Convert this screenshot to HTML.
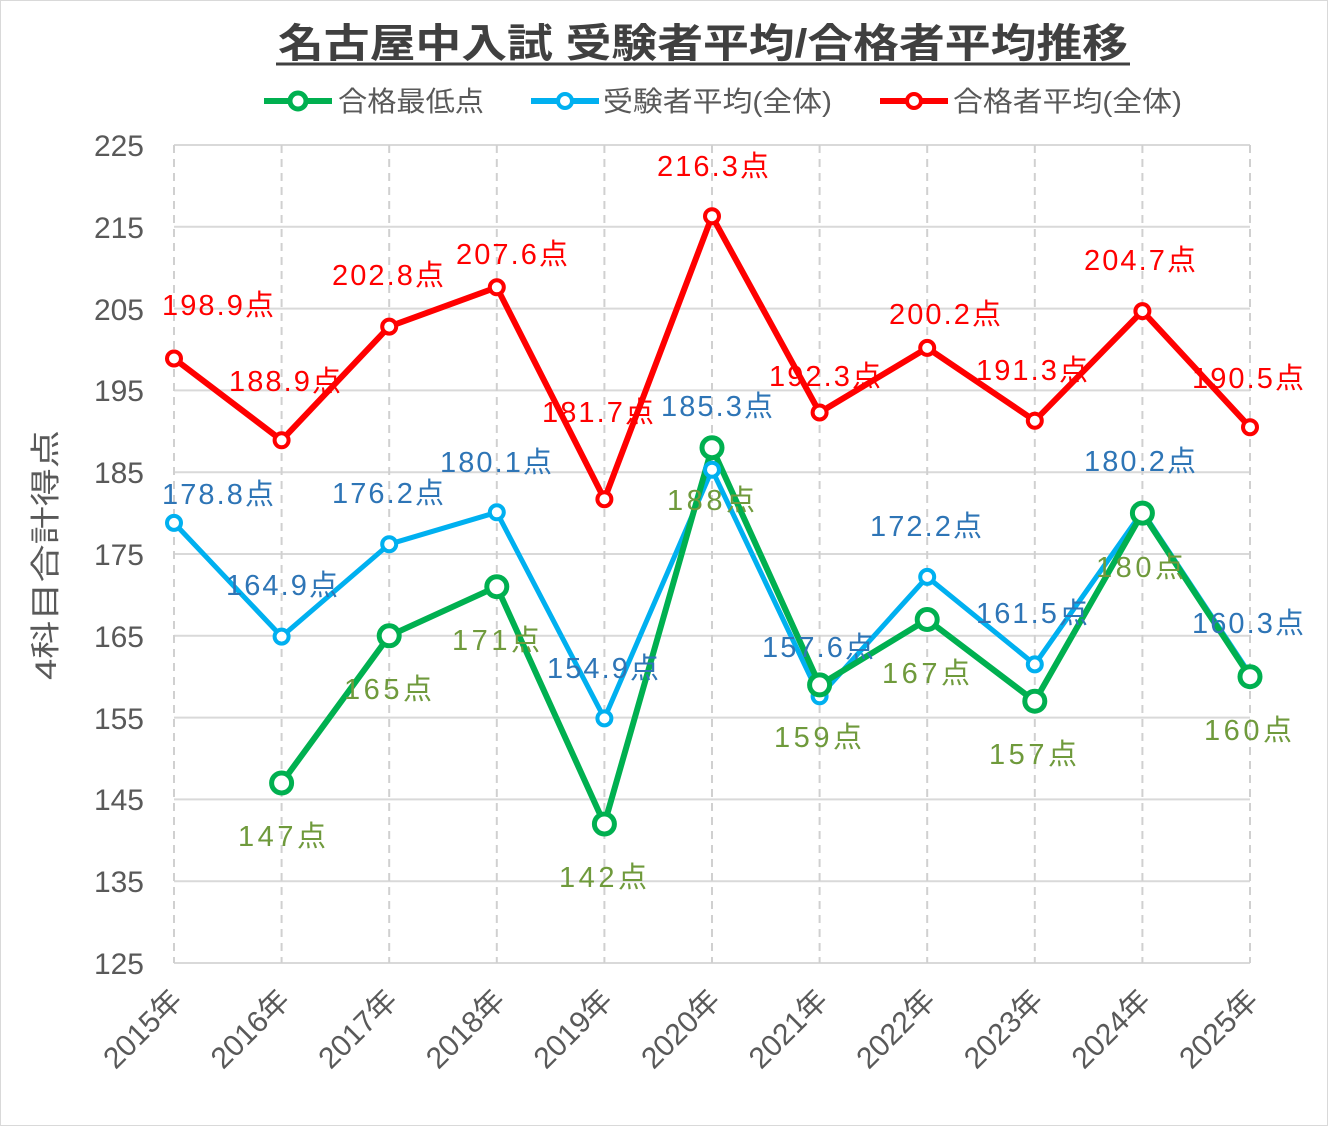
<!DOCTYPE html>
<html><head><meta charset="utf-8"><style>
html,body{margin:0;padding:0;background:#fff}
svg text{font-family:"Liberation Sans","Noto Sans CJK JP",sans-serif}
</style></head><body>
<svg width="1328" height="1126" viewBox="0 0 1328 1126" xmlns="http://www.w3.org/2000/svg">
<rect x="0.5" y="0.5" width="1327" height="1125" fill="#fff" stroke="#d9d9d9"/>
<text x="278" y="57" font-size="40" font-weight="bold" fill="#404040" textLength="850" lengthAdjust="spacingAndGlyphs">名古屋中入試 受験者平均/合格者平均推移</text>
<line x1="276" y1="64" x2="1130" y2="64" stroke="#404040" stroke-width="3"/>
<g font-size="28" fill="#595959">
<line x1="264" y1="101" x2="332" y2="101" stroke="#00b050" stroke-width="6"/><circle cx="298" cy="101" r="8" fill="#fff" stroke="#00b050" stroke-width="5"/>
<text x="338" y="111" textLength="146" lengthAdjust="spacingAndGlyphs">合格最低点</text>
<line x1="531" y1="101" x2="599" y2="101" stroke="#00b0f0" stroke-width="6"/><circle cx="565" cy="101" r="7" fill="#fff" stroke="#00b0f0" stroke-width="4"/>
<text x="603" y="111" textLength="229" lengthAdjust="spacingAndGlyphs">受験者平均(全体)</text>
<line x1="880" y1="101" x2="948" y2="101" stroke="#ff0000" stroke-width="6"/><circle cx="914" cy="101" r="7" fill="#fff" stroke="#ff0000" stroke-width="4"/>
<text x="953" y="111" textLength="229" lengthAdjust="spacingAndGlyphs">合格者平均(全体)</text>
</g>
<g stroke="#d9d9d9" stroke-width="2">
<line x1="174" y1="145" x2="1250" y2="145"/><line x1="174" y1="226.8" x2="1250" y2="226.8"/><line x1="174" y1="308.6" x2="1250" y2="308.6"/><line x1="174" y1="390.4" x2="1250" y2="390.4"/><line x1="174" y1="472.2" x2="1250" y2="472.2"/><line x1="174" y1="554" x2="1250" y2="554"/><line x1="174" y1="635.8" x2="1250" y2="635.8"/><line x1="174" y1="717.6" x2="1250" y2="717.6"/><line x1="174" y1="799.4" x2="1250" y2="799.4"/><line x1="174" y1="881.2" x2="1250" y2="881.2"/><line x1="174" y1="963" x2="1250" y2="963"/>
</g>
<g stroke="#d0d0d0" stroke-width="2" stroke-dasharray="8,6">
<line x1="174" y1="145" x2="174" y2="963"/><line x1="281.6" y1="145" x2="281.6" y2="963"/><line x1="389.2" y1="145" x2="389.2" y2="963"/><line x1="496.8" y1="145" x2="496.8" y2="963"/><line x1="604.4" y1="145" x2="604.4" y2="963"/><line x1="712" y1="145" x2="712" y2="963"/><line x1="819.6" y1="145" x2="819.6" y2="963"/><line x1="927.2" y1="145" x2="927.2" y2="963"/><line x1="1034.8" y1="145" x2="1034.8" y2="963"/><line x1="1142.4" y1="145" x2="1142.4" y2="963"/><line x1="1250" y1="145" x2="1250" y2="963"/>
</g>
<g font-size="30" fill="#595959" text-anchor="end">
<text x="144" y="156">225</text><text x="144" y="238">215</text><text x="144" y="320">205</text><text x="144" y="401">195</text><text x="144" y="483">185</text><text x="144" y="565">175</text><text x="144" y="647">165</text><text x="144" y="729">155</text><text x="144" y="810">145</text><text x="144" y="892">135</text><text x="144" y="974">125</text>
</g>
<text transform="translate(56,555) rotate(-90)" text-anchor="middle" font-size="30" fill="#595959" textLength="250" lengthAdjust="spacingAndGlyphs">4科目合計得点</text>
<g font-size="30" fill="#595959" text-anchor="end">
<text transform="translate(184,1002) rotate(-45)">2015年</text><text transform="translate(291.6,1002) rotate(-45)">2016年</text><text transform="translate(399.2,1002) rotate(-45)">2017年</text><text transform="translate(506.8,1002) rotate(-45)">2018年</text><text transform="translate(614.4,1002) rotate(-45)">2019年</text><text transform="translate(722,1002) rotate(-45)">2020年</text><text transform="translate(829.6,1002) rotate(-45)">2021年</text><text transform="translate(937.2,1002) rotate(-45)">2022年</text><text transform="translate(1044.8,1002) rotate(-45)">2023年</text><text transform="translate(1152.4,1002) rotate(-45)">2024年</text><text transform="translate(1260,1002) rotate(-45)">2025年</text>
</g>
<polyline fill="none" stroke="#ff0000" stroke-width="6" stroke-linejoin="round" points="174,358.5 281.6,440.3 389.2,326.6 496.8,287.3 604.4,499.2 712,216.2 819.6,412.5 927.2,347.9 1034.8,420.7 1142.4,311.1 1250,427.2"/>
<polyline fill="none" stroke="#00b0f0" stroke-width="5" stroke-linejoin="round" points="174,522.9 281.6,636.6 389.2,544.2 496.8,512.3 604.4,718.4 712,469.7 819.6,696.3 927.2,576.9 1034.8,664.4 1142.4,511.5 1250,674.2"/>
<polyline fill="none" stroke="#00b050" stroke-width="6" stroke-linejoin="round" points="281.6,783 389.2,635.8 496.8,586.7 604.4,824 712,447.7 819.6,684.9 927.2,619.5 1034.8,701.2 1142.4,513.1 1250,676.7"/>
<g fill="#fff" stroke="#ff0000" stroke-width="4">
<circle cx="174" cy="358.5" r="7"/><circle cx="281.6" cy="440.3" r="7"/><circle cx="389.2" cy="326.6" r="7"/><circle cx="496.8" cy="287.3" r="7"/><circle cx="604.4" cy="499.2" r="7"/><circle cx="712" cy="216.2" r="7"/><circle cx="819.6" cy="412.5" r="7"/><circle cx="927.2" cy="347.9" r="7"/><circle cx="1034.8" cy="420.7" r="7"/><circle cx="1142.4" cy="311.1" r="7"/><circle cx="1250" cy="427.2" r="7"/>
</g>
<g fill="#fff" stroke="#00b0f0" stroke-width="4">
<circle cx="174" cy="522.9" r="7"/><circle cx="281.6" cy="636.6" r="7"/><circle cx="389.2" cy="544.2" r="7"/><circle cx="496.8" cy="512.3" r="7"/><circle cx="604.4" cy="718.4" r="7"/><circle cx="712" cy="469.7" r="7"/><circle cx="819.6" cy="696.3" r="7"/><circle cx="927.2" cy="576.9" r="7"/><circle cx="1034.8" cy="664.4" r="7"/><circle cx="1142.4" cy="511.5" r="7"/><circle cx="1250" cy="674.2" r="7"/>
</g>
<g fill="#fff" stroke="#00b050" stroke-width="5">
<circle cx="281.6" cy="783" r="10"/><circle cx="389.2" cy="635.8" r="10"/><circle cx="496.8" cy="586.7" r="10"/><circle cx="604.4" cy="824" r="10"/><circle cx="712" cy="447.7" r="10"/><circle cx="819.6" cy="684.9" r="10"/><circle cx="927.2" cy="619.5" r="10"/><circle cx="1034.8" cy="701.2" r="10"/><circle cx="1142.4" cy="513.1" r="10"/><circle cx="1250" cy="676.7" r="10"/>
</g>
<g font-size="29" fill="#ff0000" text-anchor="middle">
<text x="218" y="315" textLength="112">198.9点</text><text x="285" y="391" textLength="112">188.9点</text><text x="388" y="285" textLength="112">202.8点</text><text x="512" y="264" textLength="112">207.6点</text><text x="598" y="422" textLength="112">181.7点</text><text x="713" y="176" textLength="112">216.3点</text><text x="825" y="386" textLength="112">192.3点</text><text x="945" y="324" textLength="112">200.2点</text><text x="1032" y="380" textLength="112">191.3点</text><text x="1140" y="270" textLength="112">204.7点</text><text x="1248" y="388" textLength="112">190.5点</text>
</g>
<g font-size="29" fill="#2e75b6" text-anchor="middle">
<text x="218" y="504" textLength="112">178.8点</text><text x="282" y="595" textLength="112">164.9点</text><text x="388" y="503" textLength="112">176.2点</text><text x="496" y="472" textLength="112">180.1点</text><text x="603" y="678" textLength="112">154.9点</text><text x="717" y="416" textLength="112">185.3点</text><text x="818" y="657" textLength="112">157.6点</text><text x="926" y="536" textLength="112">172.2点</text><text x="1032" y="623" textLength="112">161.5点</text><text x="1140" y="471" textLength="112">180.2点</text><text x="1248" y="633" textLength="112">160.3点</text>
</g>
<g font-size="29" fill="#6f9a3c" text-anchor="middle">
<text x="282" y="846" textLength="88">147点</text><text x="388" y="699" textLength="88">165点</text><text x="496" y="650" textLength="88">171点</text><text x="603" y="887" textLength="88">142点</text><text x="711" y="510" textLength="88">188点</text><text x="818" y="747" textLength="88">159点</text><text x="926" y="683" textLength="88">167点</text><text x="1033" y="764" textLength="88">157点</text><text x="1140" y="577" textLength="88">180点</text><text x="1248" y="740" textLength="88">160点</text>
</g>
</svg>
</body></html>
